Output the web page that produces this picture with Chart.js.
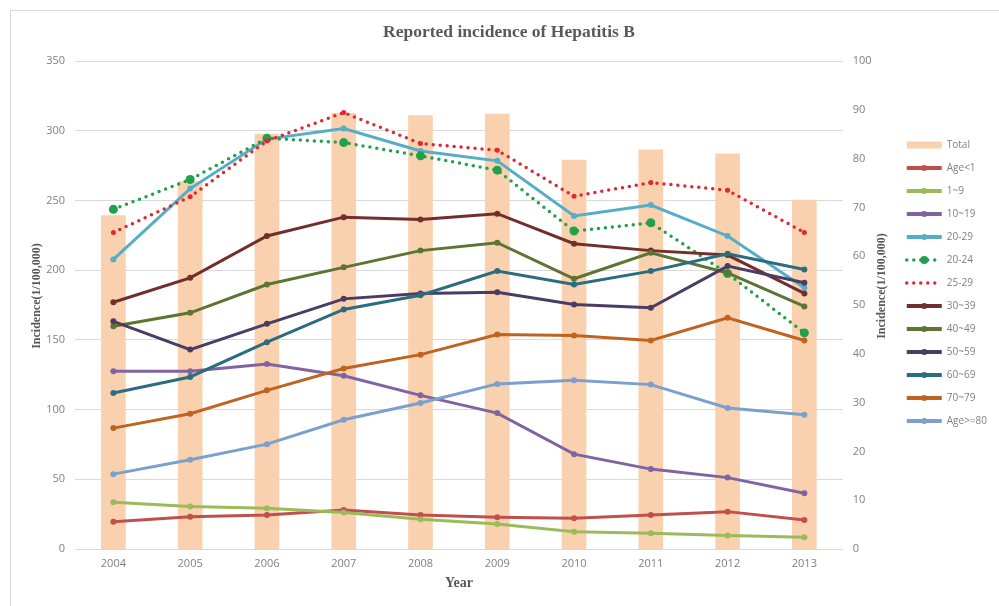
<!DOCTYPE html>
<html>
<head>
<meta charset="utf-8">
<title>Reported incidence of Hepatitis B</title>
<script src="https://cdn.jsdelivr.net/npm/chart.js@4.4.1/dist/chart.umd.min.js"></script>
<style>
  html, body { margin: 0; padding: 0; background: #fff; }
  #wrap { position: relative; width: 999px; height: 606px; overflow: hidden; }
  #frame { position: absolute; left: 10px; top: 10px; width: 1200px; height: 800px; border: 1px solid #d9d9d9; }
  canvas { position: absolute; left: 0; top: 0; }
</style>
</head>
<body>
<div id="wrap">
  <div id="frame"></div>
  <canvas id="chart" width="999" height="606"></canvas>
</div>
<script>
'use strict';

/* ── Data ────────────────────────────────────────────────────── */
const years = ['2004', '2005', '2006', '2007', '2008', '2009', '2010', '2011', '2012', '2013'];

// Total incidence, right axis (0-100)
const totalRate = [68.3, 75.3, 85.0, 89.3, 88.8, 89.1, 79.7, 81.8, 81.0, 71.5];

// Age groups, left axis (0-350)
const ageLt1    = [19.6, 23.2, 24.4, 28.0, 24.4, 22.8, 22.0, 24.4, 26.8, 20.8];
const age1to9   = [33.6, 30.4, 29.2, 26.1, 21.3, 18.0, 12.4, 11.3, 9.6, 8.4];
const age10to19 = [127.5, 127.5, 132.7, 124.3, 110.2, 97.5, 68.0, 57.3, 51.2, 40.0];
const age20to29 = [207.7, 258.5, 294.0, 301.6, 285.5, 278.4, 238.8, 246.7, 224.5, 187.4];
const age20to24 = [243.6, 265.0, 294.6, 291.5, 282.0, 271.7, 228.0, 234.0, 197.6, 155.0];
const age25to29 = [227.0, 252.6, 292.7, 313.0, 290.8, 286.0, 253.0, 262.8, 257.3, 227.0];
const age30to39 = [177.0, 194.5, 224.5, 238.0, 236.4, 240.5, 219.0, 214.0, 210.8, 183.3];
const age40to49 = [159.8, 169.4, 189.7, 202.0, 214.0, 219.7, 193.8, 212.5, 198.0, 174.0];
const age50to59 = [163.3, 143.0, 161.5, 179.4, 183.3, 184.2, 175.4, 173.0, 202.9, 191.0];
const age60to69 = [111.9, 123.4, 148.3, 171.8, 182.0, 199.3, 189.7, 199.3, 211.8, 200.5];
const age70to79 = [86.7, 97.0, 113.8, 129.4, 139.4, 153.8, 153.1, 149.5, 165.8, 149.5];
const age80plus = [53.7, 64.0, 75.2, 92.7, 104.7, 118.4, 121.0, 117.9, 101.1, 96.3];

const leftMax = 350, leftStep = 50;
const rightMax = 100, rightStep = 10;

const chartTitle = 'Reported incidence of Hepatitis B';
const yTitle = 'Incidence(1/100,000)';
const xTitle = 'Year';

/* ── Series styling ──────────────────────────────────────────── */
const lineSeries = [
    { label: 'Age<1',   data: ageLt1,    color: '#C0504D' },
    { label: '1~9',     data: age1to9,   color: '#9BBB59' },
    { label: '10~19',   data: age10to19, color: '#8064A2' },
    { label: '20-29',   data: age20to29, color: '#55ADC8' },
    { label: '20-24',   data: age20to24, color: '#22A04B', dotted: true, radius: 4.5 },
    { label: '25-29',   data: age25to29, color: '#E0282E', dotted: true, radius: 2.5 },
    { label: '30~39',   data: age30to39, color: '#722E2C' },
    { label: '40~49',   data: age40to49, color: '#5E7432' },
    { label: '50~59',   data: age50to59, color: '#4B3C63' },
    { label: '60~69',   data: age60to69, color: '#2B6C7E' },
    { label: '70~79',   data: age70to79, color: '#BF6420' },
    { label: 'Age>=80', data: age80plus, color: '#7BA0CE' },
];

const BAR_COLOR = '#FAD1AF';
const TEXT_GRAY = '#7f7f7f';
const TITLE_GRAY = '#595959';
const GRID = '#d9d9d9';

const datasets = [{
    type: 'bar',
    label: 'Total',
    data: totalRate,
    yAxisID: 'y1',
    backgroundColor: BAR_COLOR,
    borderWidth: 0,
    barThickness: 24,
    order: 100,
}];

lineSeries.forEach((s, i) => {
    datasets.push({
        type: 'line',
        label: s.label,
        data: s.data,
        yAxisID: 'y',
        borderColor: s.color,
        backgroundColor: s.color,
        borderWidth: s.dotted ? 3.5 : 3,
        borderDash: s.dotted ? [0, 7] : [],
        borderCapStyle: s.dotted ? 'round' : 'butt',
        pointRadius: s.radius || 3,
        pointBackgroundColor: s.color,
        pointBorderWidth: 0,
        tension: 0,
        fill: false,
        order: 50 - i,
        legendDot: s.dotted ? (s.radius > 3 ? 4 : 0) : 3,
    });
});

/* ── Small plugins: legend dots and the two axis titles ──────── */
const legendDots = {
    id: 'legendDots',
    afterDraw(chart) {
        const lg = chart.legend;
        if (!lg || !lg.legendHitBoxes) return;
        const ctx = chart.ctx;
        lg.legendItems.forEach((item, i) => {
            const ds = chart.data.datasets[item.datasetIndex];
            if (ds.type !== 'line' || !ds.legendDot) return;
            const hb = lg.legendHitBoxes[i];
            ctx.beginPath();
            ctx.arc(hb.left + 17.5, hb.top + 5, ds.legendDot, 0, Math.PI * 2);
            ctx.fillStyle = ds.borderColor;
            ctx.fill();
        });
    }
};

// both y titles read bottom-to-top, sitting a little above the middle
function drawYTitle(ctx, x, y) {
    ctx.save();
    ctx.translate(x, y);
    ctx.rotate(-Math.PI / 2);
    ctx.font = 'bold 12px "Liberation Serif"';
    ctx.fillStyle = TITLE_GRAY;
    ctx.textAlign = 'center';
    ctx.textBaseline = 'middle';
    ctx.fillText(yTitle, 0, 0);
    ctx.restore();
}

const yTitles = {
    id: 'yTitles',
    afterDraw(chart) {
        const l = chart.scales.y, r = chart.scales.y1;
        const mid = (l.top + l.bottom) / 2;
        drawYTitle(chart.ctx, l.left + 16, mid - 9);
        drawYTitle(chart.ctx, r.right - 12, mid - 19);
    }
};

const tickFont = { family: 'Open Sans', size: 11 };
const serifBold = size => ({ family: 'Liberation Serif', size, weight: 'bold' });

new Chart(document.getElementById('chart'), {
    data: { labels: years, datasets },
    plugins: [legendDots, yTitles],
    options: {
        responsive: false,
        animation: false,
        layout: { padding: { top: 10, left: 21, right: 2, bottom: 0 } },
        scales: {
            x: {
                offset: true,
                grid: { display: false, drawTicks: false },
                border: { display: false },
                ticks: { color: TEXT_GRAY, font: tickFont, padding: 8, maxRotation: 0 },
                title: { display: true, text: xTitle, color: TITLE_GRAY, font: serifBold(14), padding: { top: 0, bottom: 14.6 } },
                afterFit: s => { s.height = 57; },
            },
            y: {
                position: 'left',
                min: 0, max: leftMax,
                ticks: { stepSize: leftStep, color: TEXT_GRAY, font: tickFont, padding: 10 },
                grid: { color: GRID, drawTicks: false },
                border: { display: false },
                afterFit: s => { s.width = 54; },
            },
            y1: {
                position: 'right',
                min: 0, max: rightMax,
                ticks: { stepSize: rightStep, color: TEXT_GRAY, font: tickFont, padding: 10 },
                grid: { display: false, drawTicks: false },
                border: { display: false },
                afterFit: s => { s.width = 51; },
            },
        },
        plugins: {
            title: {
                display: true,
                text: chartTitle,
                color: TITLE_GRAY,
                font: serifBold(17.5),
                padding: { top: 11.5, bottom: 18.5 },
            },
            legend: {
                position: 'right',
                align: 'start',
                title: { display: true, text: '', font: { size: 10, lineHeight: 1 }, padding: { top: 107, bottom: 0 } },
                labels: {
                    usePointStyle: true,
                    pointStyleWidth: 35,
                    boxHeight: 7,
                    padding: 13,
                    color: TEXT_GRAY,
                    font: { family: 'Open Sans', size: 10 },
                    generateLabels: chart => chart.data.datasets.map((ds, i) => ({
                        text: ds.label,
                        datasetIndex: i,
                        hidden: false,
                        fontColor: TEXT_GRAY,
                        fillStyle: ds.backgroundColor,
                        strokeStyle: ds.type === 'bar' ? ds.backgroundColor : ds.borderColor,
                        lineWidth: ds.type === 'bar' ? 0 : (ds.borderDash.length ? 3.5 : 4),
                        lineDash: ds.type === 'bar' ? [] : ds.borderDash,
                        lineCap: ds.type === 'bar' ? 'butt' : ds.borderCapStyle,
                        pointStyle: ds.type === 'bar' ? 'rect' : 'line',
                    })),
                },
            },
            tooltip: { enabled: false },
        },
    },
});
</script>
</body>
</html>
